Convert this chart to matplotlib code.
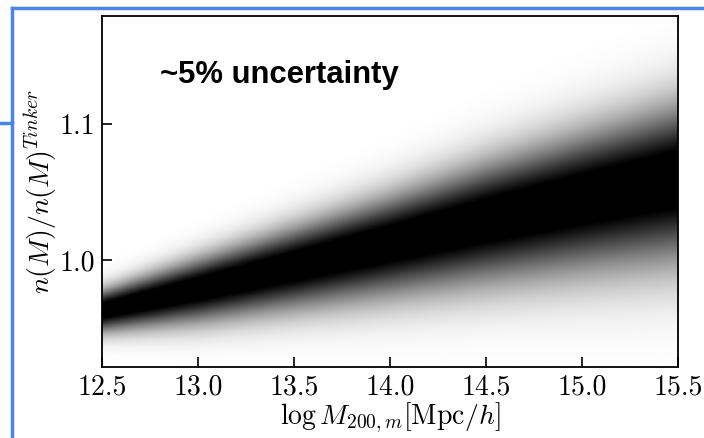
import numpy as np
import matplotlib
matplotlib.use("Agg")
import matplotlib.pyplot as plt
from matplotlib.lines import Line2D

plt.rcParams['font.family'] = 'serif'
plt.rcParams['font.serif'] = ['cmr10']
plt.rcParams['mathtext.fontset'] = 'cm'
plt.rcParams['axes.formatter.use_mathtext'] = True

# band of n(M)/n(M)^Tinker vs log mass: centre and 1-sigma width
log_mass = [12.5, 13.0, 13.5, 14.0, 14.5, 15.0, 15.5]
ratio_center = [0.963, 0.979, 0.996, 1.013, 1.030, 1.046, 1.061]
sigma_up = [0.010, 0.015, 0.019, 0.023, 0.028, 0.032, 0.036]
sigma_low = [0.011, 0.017, 0.022, 0.027, 0.032, 0.037, 0.042]

x_ticks = [12.5, 13.0, 13.5, 14.0, 14.5, 15.0, 15.5]
y_ticks = [1.0, 1.1]
y_range = (0.9213, 1.1794)
note = "~5% uncertainty"

# density image on a fine grid, lightly saturating in the core
xg = np.linspace(log_mass[0], log_mass[-1], 400)
yg = np.linspace(y_range[0], y_range[1], 400)
X, Y = np.meshgrid(xg, yg)
mu = np.interp(X, log_mass, ratio_center)
sig = np.where(Y >= mu, np.interp(X, log_mass, sigma_up),
               np.interp(X, log_mass, sigma_low))
dens = np.clip(1.15 * np.exp(-0.5 * ((Y - mu) / sig) ** 2), 0, 1)

fig = plt.figure(figsize=(7.04, 4.38), dpi=100)
ax = fig.add_axes([102 / 704, 71 / 438, 576 / 704, 351 / 438])
ax.imshow(dens, origin='lower', aspect='auto', cmap='gray_r', vmin=0, vmax=1,
          extent=[xg[0], xg[-1], yg[0], yg[-1]], interpolation='bilinear')

ax.set_xlim(log_mass[0], log_mass[-1])
ax.set_ylim(*y_range)
ax.set_xticks(x_ticks)
ax.set_xticklabels([f"{t:.1f}" for t in x_ticks])
ax.set_yticks(y_ticks)
ax.set_yticklabels([f"{t:.1f}" for t in y_ticks])
ax.tick_params(direction='in', length=7, width=1.2, labelsize=20, pad=5)
for s in ax.spines.values():
    s.set_linewidth(1.3)

ax.set_xlabel(r'$\log M_{200,m}[\mathrm{Mpc}/h]$', fontsize=20, labelpad=0)
ax.set_ylabel(r'$n(M)/n(M)^{Tinker}$', fontsize=20, labelpad=0)

fig.text(160 / 704, 1 - 83 / 438, note, fontsize=22.3, fontweight='bold',
         family='Liberation Sans', ha='left', va='baseline')

# slide frame lines
blue = '#4a86e8'
fig.add_artist(Line2D([12 / 704, 1], [1 - 8 / 438] * 2, color=blue, lw=2.5))
fig.add_artist(Line2D([12 / 704] * 2, [0, 1 - 8 / 438], color=blue, lw=2.5))
fig.add_artist(Line2D([0, 12 / 704], [1 - 123 / 438] * 2, color=blue, lw=2.5))

fig.savefig('out.png', dpi=100)
